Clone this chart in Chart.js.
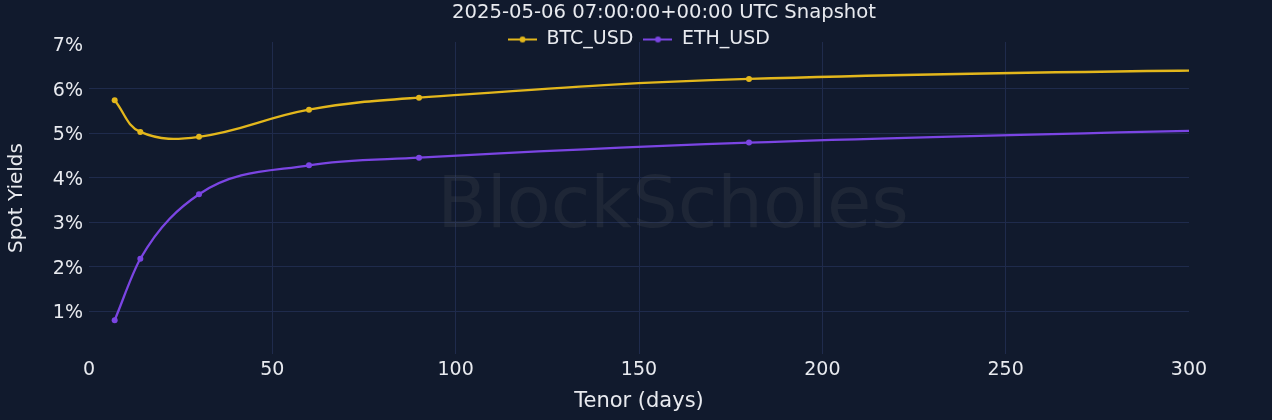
<!DOCTYPE html>
<html>
<head>
<meta charset="utf-8">
<script src="https://cdn.jsdelivr.net/npm/chart.js@4/dist/chart.umd.min.js"></script>
<style>
html,body{margin:0;padding:0;background:#111a2d;}
canvas{display:block;}
</style>
</head>
<body>
<canvas id="c" width="1272" height="420"></canvas>
<script>
const tenors = [7, 14, 30, 60, 90, 180, 365];
const btcYields = [5.74, 5.03, 4.92, 5.53, 5.80, 6.22, 6.48];
const ethYields = [0.80, 2.18, 3.63, 4.28, 4.45, 4.79, 5.18];
const yTicks = [1, 2, 3, 4, 5, 6, 7];
const xTicks = [0, 50, 100, 150, 200, 250, 300];
const seriesNames = ['BTC_USD', 'ETH_USD'];
const titleText = '2025-05-06 07:00:00+00:00 UTC Snapshot';

const FONT = "'DejaVu Sans', Verdana, sans-serif";
const TEXT = '#e8eaef';
const GRID = '#1f2b4c';
const BTC = '#e3b71c';
const ETH = '#7b45e3';

function icon(color) {
  const c = document.createElement('canvas');
  c.width = 29; c.height = 10;
  const g = c.getContext('2d');
  g.strokeStyle = color; g.lineWidth = 2;
  g.beginPath(); g.moveTo(0, 5); g.lineTo(29, 5); g.stroke();
  g.fillStyle = color;
  g.beginPath(); g.arc(14.5, 5, 3, 0, Math.PI * 2); g.fill();
  return c;
}
const icons = [icon(BTC), icon(ETH)];

const watermark = {
  id: 'watermark',
  beforeDatasetsDraw(chart) {
    const { ctx } = chart;
    ctx.save();
    ctx.font = "72px 'DejaVu Sans', sans-serif";
    ctx.fillStyle = 'rgba(150,145,140,0.10)';
    ctx.textAlign = 'center';
    ctx.textBaseline = 'alphabetic';
    ctx.fillText('BlockScholes', 673, 227);
    ctx.restore();
  }
};

const titlePlugin = {
  id: 'titleText',
  afterDraw(chart) {
    const { ctx } = chart;
    ctx.save();
    ctx.font = "19.6px 'DejaVu Sans', Verdana, sans-serif";
    ctx.fillStyle = TEXT;
    ctx.textAlign = 'center';
    ctx.textBaseline = 'middle';
    ctx.fillText(titleText, 664, 13);
    ctx.restore();
  }
};

const bg = {
  id: 'bg',
  beforeDraw(chart) {
    const { ctx } = chart;
    ctx.save();
    ctx.fillStyle = '#111a2d';
    ctx.fillRect(0, 0, chart.width, chart.height);
    ctx.restore();
  }
};

const legendHeight = {
  id: 'legendHeight',
  beforeInit(chart) {
    const lg = chart.legend;
    if (!lg) return;
    const origFit = lg.fit;
    lg.fit = function () { origFit.call(this); this.height = 22; };
    const origDraw = lg.draw;
    lg.draw = function () {
      const h = this.height, b = this.bottom;
      this.height = h + 12; this.bottom = b + 12;
      origDraw.call(this);
      this.height = h; this.bottom = b;
    };
  }
};

new Chart(document.getElementById('c'), {
  type: 'line',
  data: {
    datasets: [
      { label: seriesNames[0], data: tenors.map((t, i) => ({ x: t, y: btcYields[i] })), borderColor: BTC, backgroundColor: BTC, tension: 0.4 },
      { label: seriesNames[1], data: tenors.map((t, i) => ({ x: t, y: ethYields[i] })), borderColor: ETH, backgroundColor: ETH, cubicInterpolationMode: 'monotone' }
    ]
  },
  options: {
    responsive: false,
    animation: false,
    layout: { padding: { left: 0, right: 83, top: 20, bottom: 0 } },
    elements: {
      line: { borderWidth: 2.3 },
      point: { radius: 3, hoverRadius: 3, borderWidth: 0, pointStyle: 'circle' }
    },
    plugins: {
      title: { display: false },
      legend: {
        display: true,
        fullSize: false,
        labels: {
          color: TEXT, font: { family: FONT, size: 19 },
          usePointStyle: true, pointStyleWidth: 29, padding: 10,
          generateLabels(chart) {
            return chart.data.datasets.map((d, i) => ({
              text: d.label, fontColor: TEXT, pointStyle: icons[i],
              strokeStyle: d.borderColor, fillStyle: d.borderColor, lineWidth: 0, datasetIndex: i, hidden: false
            }));
          }
        }
      },
      tooltip: { enabled: false }
    },
    scales: {
      x: {
        type: 'linear', min: 0, max: 300,
        afterBuildTicks(s) { s.ticks = xTicks.map(v => ({ value: v })); },
        afterFit(s) { s.height = 66; },
        ticks: { color: TEXT, font: { family: FONT, size: 19 }, padding: 5, maxRotation: 0 },
        grid: { color: ctx => (ctx.tick && (ctx.tick.value === 0 || ctx.tick.value === 300)) ? 'rgba(0,0,0,0)' : GRID, drawTicks: false, lineWidth: 1 },
        border: { display: false },
        title: { display: true, text: 'Tenor (days)', color: TEXT, font: { family: FONT, size: 21 }, padding: { top: 0, bottom: 6 } }
      },
      y: {
        type: 'linear', min: 0.04, max: 7.05,
        afterBuildTicks(s) { s.ticks = yTicks.map(v => ({ value: v })); },
        afterFit(s) { s.width = 89; },
        ticks: { color: TEXT, font: { family: FONT, size: 19 }, padding: 6, labelOffset: 2, callback: v => v + '%' },
        grid: { color: ctx => (ctx.tick && ctx.tick.value === 7) ? 'rgba(0,0,0,0)' : GRID, drawTicks: false, lineWidth: 1 },
        border: { display: false },
        title: { display: true, text: 'Spot Yields', color: TEXT, font: { family: FONT, size: 20 }, padding: { top: 5, bottom: 0 } }
      }
    }
  },
  plugins: [bg, legendHeight, watermark, titlePlugin]
});
</script>
</body>
</html>
